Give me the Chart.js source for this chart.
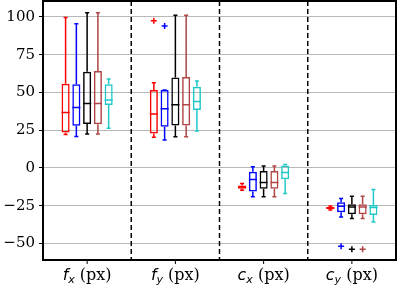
<!DOCTYPE html>
<html>
<head>
<meta charset="UTF-8">
<title>Box plots</title>
<script src="https://cdn.jsdelivr.net/npm/chart.js"></script>
<style>
  body { margin: 0; background: #fff; }
  #wrap { width: 399px; height: 288px; }
</style>
</head>
<body>
<div id="wrap"><canvas id="chart" width="399" height="288"></canvas></div>
<script>
// categories (label base + subscript)
const categories = ['fx', 'fy', 'cx', 'cy'];
const labelBase = ['f', 'f', 'c', 'c'];
const labelSub = ['x', 'y', 'x', 'y'];
const yTicks = [-50, -25, 0, 25, 50, 75, 100];

// one row per series, one column per category
const lowWhisker = [
  [22.1, 20.2, -14.8, -27.9],
  [20.8, 18.4, -19.2, -32.5],
  [22.5, 20.6, -19.2, -33.6],
  [22.5, 20.6, -19.2, -33.6],
  [26.3, 24.5, -17.0, -35.8]
];
const q1 = [
  [23.5, 22.8, -13.8, -27.2],
  [27.9, 27.2, -15.6, -29.4],
  [29.0, 28.1, -13.9, -30.7],
  [28.9, 28.1, -13.9, -30.7],
  [41.6, 38.3, -7.5, -31.2]
];
const median = [
  [36.7, 35.6, -12.6, -26.5],
  [40.0, 39.1, -7.7, -25.4],
  [42.7, 41.8, -9.7, -25.9],
  [42.7, 41.8, -9.7, -25.9],
  [44.9, 44.0, -3.1, -26.3]
];
const q3 = [
  [55.7, 51.5, -11.6, -25.9],
  [55.3, 51.5, -2.6, -22.7],
  [63.7, 59.9, -2.0, -24.1],
  [64.1, 60.1, -2.0, -24.1],
  [55.3, 53.7, 1.6, -24.5]
];
const highWhisker = [
  [99.5, 56.4, -10.4, -25.3],
  [95.5, 51.5, 0.7, -20.3],
  [102.8, 101.0, 1.3, -18.8],
  [102.8, 101.0, 1.3, -18.8],
  [58.8, 57.5, 2.2, -14.3]
];
const outliers = [
  [[], [97.5], [], []],
  [[], [94.0], [], [-51.9]],
  [[], [], [], [-53.9]],
  [[], [], [], [-53.9]],
  [[], [], [], []]
];
const colors = ['#ff0000', '#0000ff', '#000000', '#b04545', '#22c8c8'];

const datasets = colors.map((c, s) => ({
  data: categories.map((_, i) => [q1[s][i], q3[s][i]]),
  backgroundColor: 'rgba(0,0,0,0)',
  borderColor: c,
  borderWidth: 1.5,
  borderSkipped: false,
  categoryPercentage: 0.61,
  barPercentage: 0.75
}));

const boxPlugin = {
  id: 'boxes',
  afterDatasetsDraw(chart) {
    const ctx = chart.ctx;
    const y = chart.scales.y;
    const x = chart.scales.x;
    const area = chart.chartArea;
    ctx.save();

    // dashed separators between groups
    ctx.strokeStyle = '#000';
    ctx.lineWidth = 1.5;
    ctx.setLineDash([5, 3]);
    for (let i = 0; i < categories.length - 1; i++) {
      const px = (x.getPixelForValue(i) + x.getPixelForValue(i + 1)) / 2;
      ctx.beginPath();
      ctx.moveTo(px, area.top);
      ctx.lineTo(px, area.bottom);
      ctx.stroke();
    }
    ctx.setLineDash([]);

    chart.data.datasets.forEach((ds, s) => {
      const meta = chart.getDatasetMeta(s);
      ctx.strokeStyle = colors[s];
      ctx.lineWidth = 1.5;
      meta.data.forEach((el, i) => {
        const cx = el.x, w = el.width;
        const capW = w * 0.5;
        const pLow = y.getPixelForValue(lowWhisker[s][i]);
        const pHigh = y.getPixelForValue(highWhisker[s][i]);
        const pQ1 = y.getPixelForValue(q1[s][i]);
        const pQ3 = y.getPixelForValue(q3[s][i]);
        const pMed = y.getPixelForValue(median[s][i]);
        ctx.beginPath();
        ctx.moveTo(cx, pQ3); ctx.lineTo(cx, pHigh);
        ctx.moveTo(cx, pQ1); ctx.lineTo(cx, pLow);
        ctx.moveTo(cx - capW / 2, pHigh); ctx.lineTo(cx + capW / 2, pHigh);
        ctx.moveTo(cx - capW / 2, pLow); ctx.lineTo(cx + capW / 2, pLow);
        ctx.moveTo(cx - w / 2, pMed); ctx.lineTo(cx + w / 2, pMed);
        ctx.stroke();
        outliers[s][i].forEach(v => {
          const py = y.getPixelForValue(v);
          ctx.beginPath();
          ctx.moveTo(cx - 3, py); ctx.lineTo(cx + 3, py);
          ctx.moveTo(cx, py - 3); ctx.lineTo(cx, py + 3);
          ctx.stroke();
        });
      });
    });

    // frame
    ctx.lineWidth = 2;
    ctx.strokeStyle = '#000';
    ctx.strokeRect(area.left, area.top, area.right - area.left, area.bottom - area.top);

    // x tick marks and labels
    ctx.fillStyle = '#000';
    ctx.textBaseline = 'alphabetic';
    ctx.textAlign = 'left';
    const fBase = 'italic 16px "DejaVu Sans"';
    const fSub = 'italic 11px "DejaVu Sans"';
    const fText = '16px "DejaVu Serif"';
    categories.forEach((_, i) => {
      const px = x.getPixelForValue(i);
      ctx.lineWidth = 1;
      ctx.beginPath();
      ctx.moveTo(px, area.bottom);
      ctx.lineTo(px, area.bottom + 4);
      ctx.stroke();
      ctx.font = fBase; const w1 = ctx.measureText(labelBase[i]).width;
      ctx.font = fSub; const w2 = ctx.measureText(labelSub[i]).width;
      ctx.font = fText; const w3 = ctx.measureText(' (px)').width;
      let sx = px - (w1 + w2 + w3) / 2;
      const base = area.bottom + 20;
      ctx.font = fBase; ctx.fillText(labelBase[i], sx, base); sx += w1;
      ctx.font = fSub; ctx.fillText(labelSub[i], sx, base + 3); sx += w2;
      ctx.font = fText; ctx.fillText(' (px)', sx, base);
    });
    ctx.restore();
  }
};

new Chart(document.getElementById('chart'), {
  type: 'bar',
  data: { labels: categories, datasets: datasets },
  options: {
    responsive: false,
    animation: false,
    devicePixelRatio: 1,
    layout: { padding: { top: 1, right: 3, left: 0, bottom: 0 } },
    plugins: { legend: { display: false }, tooltip: { enabled: false } },
    scales: {
      x: {
        grid: { display: false },
        border: { display: false },
        ticks: { display: false },
        afterFit(scale) { scale.height = 28; scale.paddingLeft = 0; scale.paddingRight = 0; }
      },
      y: {
        min: -61,
        max: 110.5,
        afterBuildTicks(scale) {
          scale.ticks = yTicks.map(v => ({ value: v }));
        },
        ticks: {
          color: '#000',
          padding: 4,
          font: { family: 'DejaVu Serif', size: 15 },
          callback: v => (v < 0 ? '\u2212' + Math.abs(v) : String(v))
        },
        grid: { color: '#b8b8b8', lineWidth: 1, tickLength: 4, tickColor: '#000' },
        border: { display: false },
        afterFit(scale) { scale.width = 43; scale.paddingTop = 0; scale.paddingBottom = 0; }
      }
    }
  },
  plugins: [boxPlugin]
});
</script>
</body>
</html>
